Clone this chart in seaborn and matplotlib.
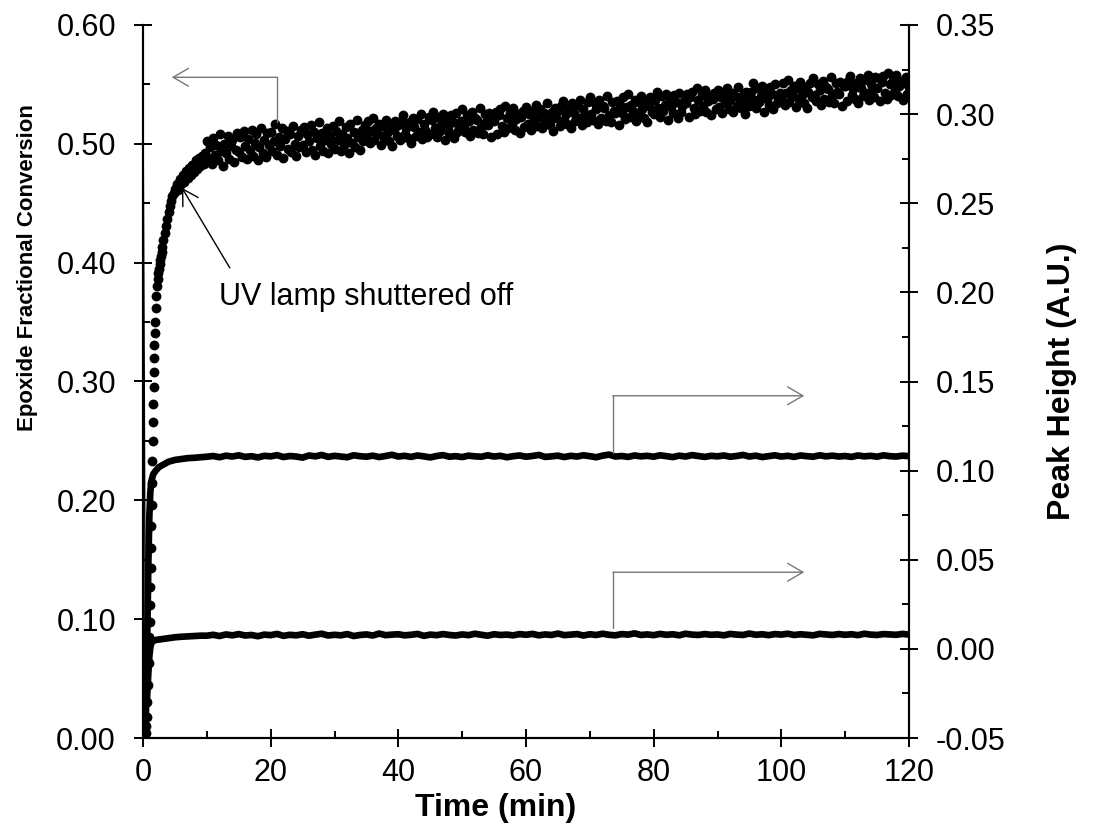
import numpy as np
import pandas as pd
import matplotlib
matplotlib.use("Agg")
import matplotlib.pyplot as plt
from matplotlib.ticker import MultipleLocator, FormatStrFormatter
import seaborn as sns

# ---------------------------------------------------------------------------
# Epoxide conversion (left axis): initial rise, sampled irregularly
# ---------------------------------------------------------------------------
conv_time_early = [
    0.30, 0.40, 0.50, 0.60, 0.70, 0.80, 0.90, 1.00, 1.05, 1.10,
    1.15, 1.20, 1.25, 1.30, 1.35, 1.40, 1.45, 1.50, 1.55, 1.60,
    1.65, 1.70, 1.75, 1.80, 1.85, 1.90, 2.00, 2.10, 2.20, 2.30,
    2.40, 2.50, 2.60, 2.70, 2.80, 2.90, 3.00, 3.20, 3.40, 3.60,
    3.80, 4.00, 4.20, 4.40, 4.60, 4.80, 5.00, 5.25, 5.50, 5.75,
    6.00, 6.25, 6.50, 6.75, 7.00, 7.25, 7.50, 7.75, 8.00, 8.25,
    8.50, 8.75, 9.00, 9.25, 9.50, 9.75,
]
conv_early = [
    0.000, 0.004, 0.010, 0.018, 0.030, 0.045, 0.063, 0.085, 0.098, 0.112,
    0.127, 0.143, 0.160, 0.178, 0.196, 0.215, 0.233, 0.250, 0.266, 0.281,
    0.295, 0.308, 0.320, 0.331, 0.341, 0.350, 0.362, 0.372, 0.380, 0.386,
    0.391, 0.395, 0.399, 0.402, 0.406, 0.409, 0.413, 0.419, 0.425, 0.431,
    0.437, 0.443, 0.448, 0.452, 0.456, 0.459, 0.462, 0.466, 0.461, 0.470,
    0.466, 0.474, 0.468, 0.477, 0.471, 0.480, 0.474, 0.482, 0.476, 0.486,
    0.479, 0.488, 0.481, 0.490, 0.483, 0.492,
]

# Epoxide conversion, dark cure period: one reading every 0.25 min, 10-120 min
conv_time_late = np.arange(10.0, 120.01, 0.25)
conv_late = [
    0.502, 0.488, 0.497, 0.483, 0.505, 0.491, 0.499, 0.486, 0.508, 0.494, 0.481, 0.500, 0.492, 0.507, 0.487, 0.498, 0.503, 0.485, 0.495, 0.509,
    0.493, 0.506, 0.489, 0.511, 0.498, 0.487, 0.504, 0.495, 0.512, 0.490, 0.501, 0.508, 0.486, 0.497, 0.513, 0.492, 0.503, 0.489, 0.509, 0.499,
    0.510, 0.494, 0.502, 0.517, 0.491, 0.506, 0.498, 0.513, 0.488, 0.504, 0.511, 0.496, 0.508, 0.493, 0.515, 0.500, 0.490, 0.507, 0.497, 0.512,
    0.499, 0.514, 0.493, 0.508, 0.502, 0.516, 0.495, 0.510, 0.491, 0.505, 0.518, 0.498, 0.509, 0.494, 0.503, 0.513, 0.492, 0.507, 0.500, 0.515,
    0.496, 0.511, 0.503, 0.519, 0.494, 0.508, 0.499, 0.514, 0.505, 0.492, 0.517, 0.501, 0.510, 0.497, 0.520, 0.506, 0.495, 0.512, 0.502, 0.516,
    0.506, 0.519, 0.501, 0.511, 0.522, 0.503, 0.513, 0.508, 0.517, 0.499, 0.515, 0.505, 0.520, 0.509, 0.502, 0.516, 0.498, 0.512, 0.519, 0.507,
    0.516, 0.503, 0.520, 0.524, 0.508, 0.513, 0.505, 0.518, 0.501, 0.522, 0.514, 0.507, 0.521, 0.510, 0.525, 0.504, 0.517, 0.512, 0.506, 0.523,
    0.508, 0.520, 0.527, 0.513, 0.506, 0.523, 0.511, 0.516, 0.525, 0.503, 0.521, 0.514, 0.509, 0.524, 0.518, 0.505, 0.526, 0.510, 0.515, 0.519,
    0.529, 0.515, 0.510, 0.524, 0.519, 0.507, 0.527, 0.512, 0.522, 0.520, 0.509, 0.530, 0.514, 0.508, 0.525, 0.518, 0.516, 0.526, 0.506, 0.523,
    0.519, 0.527, 0.508, 0.524, 0.529, 0.515, 0.510, 0.532, 0.522, 0.513, 0.526, 0.517, 0.530, 0.512, 0.521, 0.525, 0.509, 0.523, 0.528, 0.514,
    0.531, 0.517, 0.525, 0.512, 0.528, 0.520, 0.533, 0.515, 0.523, 0.529, 0.513, 0.526, 0.518, 0.534, 0.521, 0.516, 0.527, 0.511, 0.530, 0.522,
    0.528, 0.515, 0.532, 0.536, 0.520, 0.525, 0.517, 0.530, 0.513, 0.534, 0.526, 0.519, 0.533, 0.522, 0.537, 0.516, 0.529, 0.524, 0.518, 0.535,
    0.539, 0.525, 0.520, 0.534, 0.529, 0.517, 0.537, 0.522, 0.532, 0.530, 0.519, 0.540, 0.524, 0.518, 0.535, 0.528, 0.526, 0.536, 0.516, 0.533,
    0.526, 0.539, 0.521, 0.531, 0.542, 0.523, 0.533, 0.528, 0.537, 0.519, 0.535, 0.525, 0.540, 0.529, 0.522, 0.536, 0.518, 0.532, 0.539, 0.527,
    0.525, 0.537, 0.544, 0.530, 0.523, 0.540, 0.528, 0.533, 0.542, 0.520, 0.538, 0.531, 0.526, 0.541, 0.535, 0.522, 0.543, 0.527, 0.532, 0.536,
    0.534, 0.542, 0.523, 0.539, 0.544, 0.530, 0.525, 0.547, 0.537, 0.528, 0.541, 0.532, 0.545, 0.527, 0.536, 0.540, 0.524, 0.538, 0.543, 0.529,
    0.545, 0.531, 0.539, 0.526, 0.542, 0.534, 0.547, 0.529, 0.537, 0.543, 0.527, 0.540, 0.532, 0.548, 0.535, 0.530, 0.541, 0.525, 0.544, 0.536,
    0.532, 0.544, 0.551, 0.537, 0.530, 0.547, 0.535, 0.540, 0.549, 0.527, 0.545, 0.538, 0.533, 0.548, 0.542, 0.529, 0.550, 0.534, 0.539, 0.543,
    0.538, 0.551, 0.533, 0.543, 0.554, 0.535, 0.545, 0.540, 0.549, 0.531, 0.547, 0.537, 0.552, 0.541, 0.534, 0.548, 0.530, 0.544, 0.551, 0.539,
    0.555, 0.541, 0.536, 0.550, 0.545, 0.533, 0.553, 0.538, 0.548, 0.546, 0.535, 0.556, 0.540, 0.534, 0.551, 0.544, 0.542, 0.552, 0.532, 0.549,
    0.549, 0.536, 0.553, 0.557, 0.541, 0.546, 0.538, 0.551, 0.534, 0.555, 0.547, 0.540, 0.554, 0.543, 0.558, 0.537, 0.550, 0.545, 0.539, 0.556,
    0.547, 0.555, 0.536, 0.552, 0.557, 0.543, 0.538, 0.560, 0.550, 0.541, 0.554, 0.545, 0.558, 0.540, 0.549, 0.553, 0.537, 0.551, 0.556, 0.542,
    0.548,
]

# ---------------------------------------------------------------------------
# IR peak heights (right axis)
# ---------------------------------------------------------------------------
peak_time_early_a = [0.00, 0.20, 0.40, 0.55, 0.70, 0.85, 1.00, 1.15, 1.30, 1.45,
                     1.60, 2.00, 2.50, 3.00, 4.00, 5.00, 6.00, 7.00, 8.00, 9.00]
peak_early_a = [0.312, 0.150, -0.046, -0.020, 0.015, 0.050, 0.075, 0.088, 0.094, 0.096,
                0.098, 0.100, 0.102, 0.103, 0.105, 0.106, 0.1065, 0.107, 0.1072, 0.1075]

peak_time_early_b = [0.20, 0.40, 0.60, 0.80, 1.00, 1.15, 1.30, 1.45, 1.60, 2.00,
                     3.00, 4.00, 5.00, 6.00, 7.00, 8.00, 9.00]
peak_early_b = [-0.049, -0.042, -0.030, -0.016, -0.004, 0.001, 0.003, 0.004, 0.0045, 0.005,
                0.0055, 0.006, 0.0065, 0.0068, 0.0070, 0.0072, 0.0074]

# Plateau readings, one per minute from 10 to 120 min
peak_time_late = np.arange(10, 121, 1)
peak_late_a = [
    0.1078, 0.1082, 0.1075, 0.1084, 0.1079, 0.1086, 0.1077, 0.1081, 0.1074, 0.1083,
    0.1080, 0.1087, 0.1076, 0.1082, 0.1079, 0.1073, 0.1085, 0.1080, 0.1088, 0.1077,
    0.1083, 0.1079, 0.1075, 0.1086, 0.1081, 0.1078, 0.1084, 0.1076, 0.1082, 0.1089,
    0.1079, 0.1083, 0.1077, 0.1085, 0.1080, 0.1074, 0.1082, 0.1087, 0.1078, 0.1081,
    0.1076, 0.1084, 0.1080, 0.1078, 0.1086, 0.1079, 0.1083, 0.1075, 0.1081, 0.1085,
    0.1078, 0.1082, 0.1088, 0.1077, 0.1080, 0.1084, 0.1076, 0.1083, 0.1079, 0.1086,
    0.1081, 0.1075, 0.1084, 0.1090, 0.1079, 0.1082, 0.1077, 0.1085, 0.1080, 0.1083,
    0.1078, 0.1086, 0.1081, 0.1076, 0.1084, 0.1079, 0.1087, 0.1082, 0.1077, 0.1083,
    0.1080, 0.1085, 0.1078, 0.1082, 0.1088, 0.1079, 0.1084, 0.1076, 0.1081, 0.1086,
    0.1079, 0.1083, 0.1077, 0.1085, 0.1081, 0.1078, 0.1086, 0.1080, 0.1084, 0.1079,
    0.1082, 0.1077, 0.1085, 0.1080, 0.1083, 0.1078, 0.1086, 0.1081, 0.1079, 0.1084,
    0.1081,
]
peak_late_b = [
    0.0074, 0.0079, 0.0072, 0.0081, 0.0076, 0.0083, 0.0075, 0.0078, 0.0071, 0.0080,
    0.0077, 0.0084, 0.0073, 0.0079, 0.0076, 0.0082, 0.0074, 0.0080, 0.0085, 0.0075,
    0.0079, 0.0076, 0.0083, 0.0072, 0.0078, 0.0081, 0.0075, 0.0086, 0.0077, 0.0080,
    0.0082, 0.0076, 0.0079, 0.0084, 0.0073, 0.0080, 0.0077, 0.0083, 0.0078, 0.0075,
    0.0081, 0.0077, 0.0085, 0.0079, 0.0074, 0.0082, 0.0078, 0.0080, 0.0076, 0.0083,
    0.0079, 0.0084, 0.0076, 0.0081, 0.0078, 0.0086, 0.0077, 0.0080, 0.0083, 0.0075,
    0.0082, 0.0078, 0.0085, 0.0079, 0.0076, 0.0083, 0.0080, 0.0087, 0.0078, 0.0081,
    0.0077, 0.0084, 0.0079, 0.0082, 0.0076, 0.0085, 0.0080, 0.0078, 0.0083, 0.0079,
    0.0081, 0.0076, 0.0084, 0.0080, 0.0078, 0.0086, 0.0079, 0.0082, 0.0077, 0.0083,
    0.0080, 0.0085, 0.0078, 0.0082, 0.0079, 0.0076, 0.0084, 0.0081, 0.0078, 0.0083,
    0.0079, 0.0082, 0.0077, 0.0085, 0.0080, 0.0078, 0.0083, 0.0081, 0.0079, 0.0084,
    0.0080,
]

x_ticks = [0, 20, 40, 60, 80, 100, 120]

# ---------------------------------------------------------------------------
conv_df = pd.DataFrame({
    "time": np.concatenate([conv_time_early, conv_time_late]),
    "conversion": np.concatenate([conv_early, conv_late]),
})
peak_a_df = pd.DataFrame({
    "time": np.concatenate([peak_time_early_a, peak_time_late]),
    "height": np.concatenate([peak_early_a, peak_late_a]),
})
peak_b_df = pd.DataFrame({
    "time": np.concatenate([peak_time_early_b, peak_time_late]),
    "height": np.concatenate([peak_early_b, peak_late_b]),
})

sns.set_theme(style="white")
plt.rcParams["font.family"] = ["Liberation Sans", "DejaVu Sans"]
plt.rcParams["axes.unicode_minus"] = False
plt.rcParams["text.color"] = "black"
plt.rcParams["xtick.color"] = "black"
plt.rcParams["ytick.color"] = "black"
plt.rcParams["axes.edgecolor"] = "black"

W, H = 1094, 832
fig = plt.figure(figsize=(W / 100, H / 100), dpi=100)
ax = fig.add_axes([143 / W, 94 / H, 766 / W, 713 / H])
ax2 = ax.twinx()

# conversion dots
sns.scatterplot(data=conv_df, x="time", y="conversion", ax=ax, color="black",
                s=50, linewidth=0, legend=False, clip_on=True)

# peak-height traces: thin connecting line, heavy trace once the signal settles
for df in (peak_a_df, peak_b_df):
    sns.lineplot(data=df, x="time", y="height", ax=ax2, color="black",
                 linewidth=1.0, estimator=None, sort=False, legend=False)
    sns.lineplot(data=df.iloc[2:], x="time", y="height", ax=ax2, color="black",
                 linewidth=4.8, estimator=None, sort=False, legend=False)

ax.set_xlim(0, 120)
ax.set_ylim(0, 0.6)
ax2.set_ylim(-0.05, 0.35)

ax.set_xticks(x_ticks)
ax.xaxis.set_minor_locator(MultipleLocator(10))
ax.yaxis.set_major_locator(MultipleLocator(0.1))
ax.yaxis.set_minor_locator(MultipleLocator(0.05))
ax.yaxis.set_major_formatter(FormatStrFormatter("%.2f"))
ax2.yaxis.set_major_locator(MultipleLocator(0.05))
ax2.yaxis.set_minor_locator(MultipleLocator(0.025))
ax2.yaxis.set_major_formatter(FormatStrFormatter("%.2f"))

for a in (ax, ax2):
    a.tick_params(which="major", direction="inout", length=13, width=1.4,
                  labelsize=22, color="black")
    a.tick_params(which="minor", direction="in", length=5, width=1.4, color="black")
    a.spines["top"].set_visible(False)
    for s in ("left", "right", "bottom"):
        a.spines[s].set_color("black")
        a.spines[s].set_linewidth(1.5)
ax.tick_params(axis="x", which="both", bottom=True, top=False, pad=8)
ax.tick_params(axis="y", which="both", left=True, right=False, pad=13)
ax2.tick_params(axis="y", which="both", left=False, right=True, pad=13)
ax.set_xlabel("")
ax.set_ylabel("")
ax2.set_ylabel("")

# axis titles
fig.text(496 / W, 1 - 808 / H, "Time (min)", fontsize=23, fontweight="bold",
         ha="center", va="center")
fig.text(28 / W, 1 - 268 / H, "Epoxide Fractional Conversion", fontsize=16,
         fontweight="bold", rotation=90, ha="center", va="center")
fig.text(1062 / W, 1 - 381 / H, "Peak Height (A.U.)", fontsize=23,
         fontweight="bold", rotation=90, ha="center", va="center")

# pointer arrows
gray_arrow = dict(arrowstyle="->,head_length=0.55,head_width=0.32", color="#777777",
                  lw=1.0, shrinkA=0, shrinkB=0, mutation_scale=20)
ax.plot([21.0, 21.0], [0.518, 0.556], color="#777777", lw=1.0)
ax.annotate("", xy=(4.5, 0.556), xytext=(21.0, 0.556), arrowprops=gray_arrow)

for y_low, y_high in ((0.110, 0.142), (0.0115, 0.043)):
    ax2.plot([73.6, 73.6], [y_low, y_high], color="#777777", lw=1.0)
    ax2.annotate("", xy=(103.6, y_high), xytext=(73.6, y_high), arrowprops=gray_arrow)

ax.annotate("", xy=(6.1, 0.463), xytext=(13.6, 0.3956),
            arrowprops=dict(arrowstyle="->,head_length=0.55,head_width=0.32",
                            color="black", lw=1.0, shrinkA=0, shrinkB=0,
                            mutation_scale=20))
ax.text(11.9, 0.371, "UV lamp shuttered off", fontsize=22, ha="left", va="center")

fig.savefig("out.png", dpi=100, facecolor="white")
